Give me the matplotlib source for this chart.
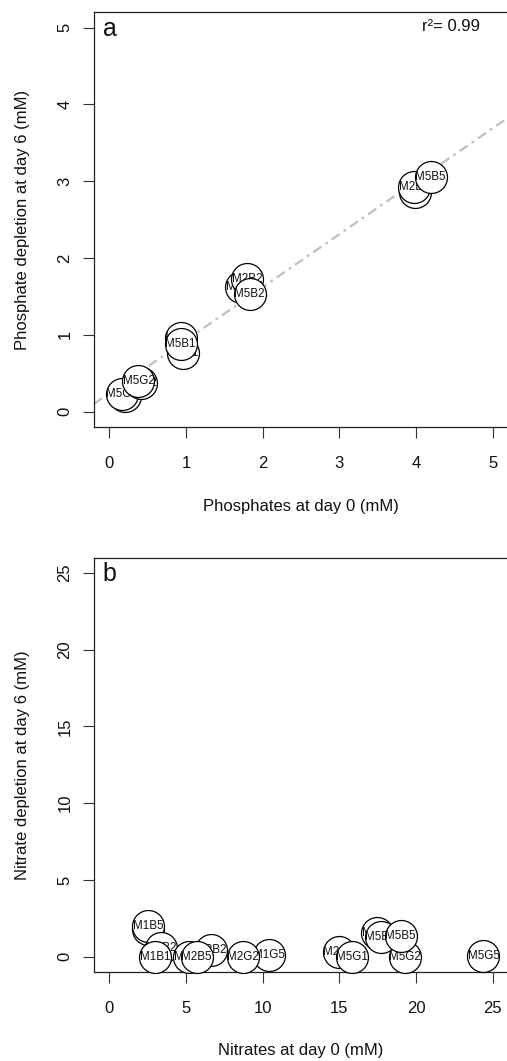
import matplotlib
matplotlib.use("Agg")
import matplotlib.pyplot as plt
import numpy as np

plt.rcParams['font.family'] = ['Liberation Sans', 'DejaVu Sans']
plt.rcParams['lines.scale_dashes'] = False

# ---- Panel a: phosphates ----
names_a = ["M1G1", "M5G1", "M2G2", "M5G2", "M1B1", "M2B1", "M5B1",
           "M1B2", "M2B2", "M5B2", "M1B5", "M2B5", "M5B5"]
x_a = [0.20, 0.17, 0.41, 0.38, 0.93, 0.96, 0.93, 1.72, 1.80, 1.83, 3.99, 3.98, 4.19]
y_a = [0.21, 0.23, 0.37, 0.40, 0.96, 0.77, 0.88, 1.62, 1.73, 1.53, 2.86, 2.92, 3.05]
fit_slope_a = 0.69
fit_intercept_a = 0.24
r2_text_a = "r\u00b2= 0.99"
ticks_a = [0, 1, 2, 3, 4, 5]

# ---- Panel b: nitrates ----
names_b = ["M1G2", "M1B5", "M1B2", "M1B1", "M2B1", "M2B2", "M2B5", "M1G5",
           "M2G2", "M2G5", "M5G1", "M5B2", "M5B1", "M5G2", "M5B5", "M5G5"]
x_b = [2.50, 2.55, 3.40, 3.00, 5.20, 6.65, 5.70, 10.40,
       8.70, 15.00, 15.80, 17.45, 17.70, 19.30, 19.00, 24.40]
y_b = [1.80, 2.00, 0.55, 0.00, 0.00, 0.45, 0.00, 0.10,
       0.00, 0.30, 0.00, 1.55, 1.30, 0.00, 1.35, 0.05]
ticks_b = [0, 5, 10, 15, 20, 25]

W, H = 507, 1061
fig = plt.figure(figsize=(W / 100, H / 100), dpi=100)

def px_axes(left, top, right, bottom):
    return fig.add_axes([left / W, 1 - bottom / H, (right - left) / W, (bottom - top) / H])

ax_a = px_axes(94, 12.3, 508, 427)
ax_b = px_axes(94, 557.7, 508, 972)

def style(ax, lim, ticks, xlabel, ylabel, letter):
    ax.set_xlim(*lim)
    ax.set_ylim(*lim)
    ax.set_xticks(ticks)
    ax.set_yticks(ticks)
    ax.spines['right'].set_visible(False)
    for s in ['left', 'top', 'bottom']:
        ax.spines[s].set_linewidth(0.9)
        ax.spines[s].set_color('#222222')
    ax.tick_params(axis='both', direction='out', length=7.6, width=0.8,
                   color='#333333', labelsize=12, labelcolor='#111111')
    ax.tick_params(axis='x', pad=13)
    ax.tick_params(axis='y', pad=8)
    for lab in ax.get_yticklabels():
        lab.set_rotation(90)
        lab.set_va('center')
    ax.set_xlabel(xlabel, fontsize=12, color='#111111')
    ax.set_ylabel(ylabel, fontsize=12, color='#111111')
    ax.xaxis.label.set_va('center')
    ax.yaxis.label.set_va('center')
    ax.xaxis.set_label_coords(0.5, -(506 - 427) / 414.7)
    ax.yaxis.set_label_coords(-(94 - 23) / 414, 0.5)
    ax.text(0.021, 1 - (35.5 - 12.3) / 414.7, letter, transform=ax.transAxes,
            fontsize=18, ha='left', va='baseline', color='#111111')

def draw_points(ax, xs, ys, names):
    for i, (x, y, n) in enumerate(zip(xs, ys, names)):
        z = 5 + 2 * i
        ax.plot([x], [y], marker='o', markersize=23, markerfacecolor='white',
                markeredgecolor='black', markeredgewidth=0.9, linestyle='none',
                zorder=z, clip_on=False)
        ax.text(x, y, n, fontsize=8.4, ha='center', va='center', zorder=z + 1,
                color='#111111')

style(ax_a, (-0.2, 5.2), ticks_a, "Phosphates at day 0 (mM)",
      "Phosphate depletion at day 6 (mM)", "a")
xl = np.array(ax_a.get_xlim())
ax_a.plot(xl, fit_intercept_a + fit_slope_a * xl, color='#c2c2c2', linewidth=1.7,
          dashes=(7, 3.5, 2, 3.5), zorder=2)
draw_points(ax_a, x_a, y_a, names_a)
ax_a.text((451 - 94) / 414, 1 - (26.7 - 12.3) / 414.7, r2_text_a, transform=ax_a.transAxes,
          fontsize=12, ha='center', va='center', color='#111111')

style(ax_b, (-1, 26), ticks_b, "Nitrates at day 0 (mM)",
      "Nitrate depletion at day 6 (mM)", "b")
draw_points(ax_b, x_b, y_b, names_b)

fig.savefig("out.png", dpi=100)
